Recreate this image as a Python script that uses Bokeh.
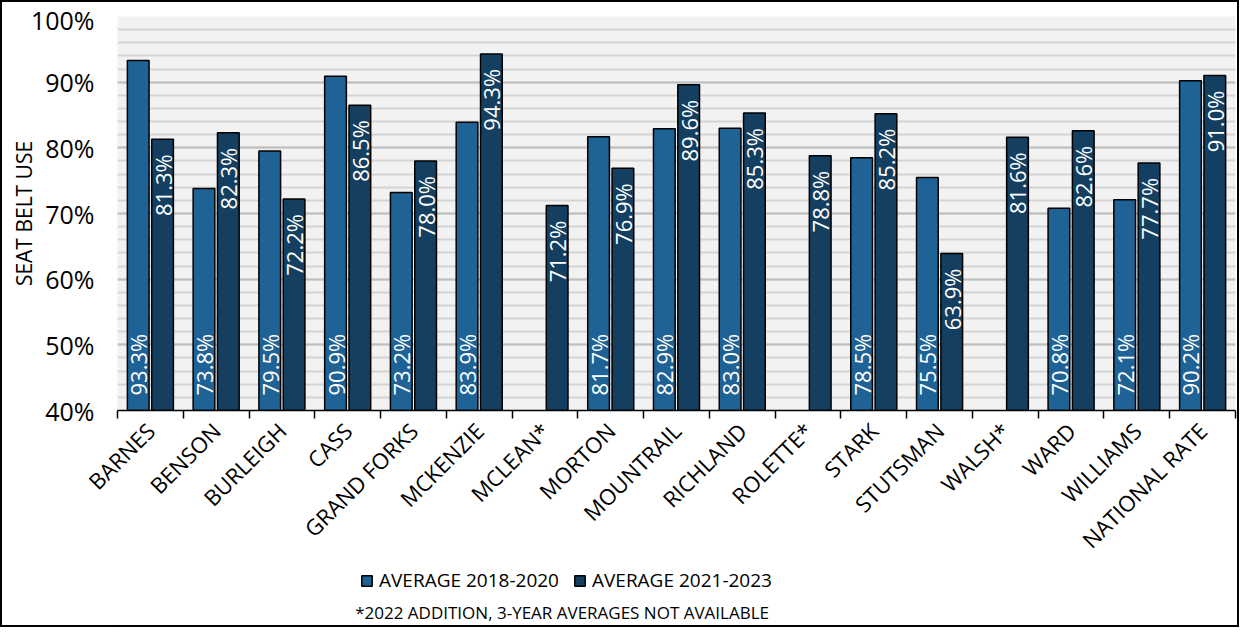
import math
from bokeh.plotting import figure
from bokeh.layouts import column
from bokeh.models import (ColumnDataSource, Range1d, FixedTicker, PrintfTickFormatter,
                          Legend, LegendItem, Label)
from bokeh.transform import dodge
from bokeh.core.properties import value
from bokeh.embed import file_html
from bokeh.resources import INLINE

counties = ["BARNES", "BENSON", "BURLEIGH", "CASS", "GRAND FORKS", "MCKENZIE", "MCLEAN*",
            "MORTON", "MOUNTRAIL", "RICHLAND", "ROLETTE*", "STARK", "STUTSMAN", "WALSH*",
            "WARD", "WILLIAMS", "NATIONAL RATE"]
avg_2018_2020 = [93.3, 73.8, 79.5, 90.9, 73.2, 83.9, None, 81.7, 82.9, 83.0, None, 78.5,
                 75.5, None, 70.8, 72.1, 90.2]
avg_2021_2023 = [81.3, 82.3, 72.2, 86.5, 78.0, 94.3, 71.2, 76.9, 89.6, 85.3, 78.8, 85.2,
                 63.9, 81.6, 82.6, 77.7, 91.0]
y_ticks = [40, 50, 60, 70, 80, 90, 100]
series_names = ["AVERAGE 2018-2020", "AVERAGE 2021-2023"]
footnote = "*2022 ADDITION, 3-YEAR AVERAGES NOT AVAILABLE"

FONT = "Open Sans"
C1 = "#1F6295"
C2 = "#153F60"
W = 1235
H1 = 565
H2 = 58

n = len(counties)
centers = [i + 0.5 for i in range(n)]
boundaries = list(range(n + 1))
nan = float("nan")
src = ColumnDataSource(dict(
    county=counties,
    pos=centers,
    a=[nan if v is None else v for v in avg_2018_2020],
    b=list(avg_2021_2023),
    a_lbl=["" if v is None else f"{v:.1f}%" for v in avg_2018_2020],
    b_lbl=[f"{v:.1f}%" for v in avg_2021_2023],
))

p = figure(x_range=Range1d(0, n), y_range=Range1d(y_ticks[0], y_ticks[-1]),
           width=W, height=H1, output_backend="svg", toolbar_location=None,
           min_border_left=115, min_border_right=2,
           min_border_top=14, min_border_bottom=156,
           background_fill_color="#F2F2F2", border_fill_color="white",
           outline_line_color=None)

off = 0.185
bw = 0.33
r1 = p.vbar(x=dodge("pos", -off), top="a", bottom=y_ticks[0], width=bw,
            source=src, fill_color=C1, line_color="black", line_width=1.5)
r2 = p.vbar(x=dodge("pos", off), top="b", bottom=y_ticks[0], width=bw,
            source=src, fill_color=C2, line_color="black", line_width=1.5)

p.text(x=dodge("pos", -off), y=y_ticks[0], text="a_lbl", angle=math.pi / 2,
       text_align="left", text_baseline="middle", y_offset=-15, text_color="white",
       text_font=value(FONT), text_font_size="22px", source=src)
p.text(x=dodge("pos", off), y="b", text="b_lbl", angle=math.pi / 2,
       text_align="right", text_baseline="middle", y_offset=15, text_color="white",
       text_font=value(FONT), text_font_size="22px", source=src)

# y axis
ya = p.yaxis[0]
ya.ticker = FixedTicker(ticks=y_ticks, minor_ticks=list(range(y_ticks[0], y_ticks[-1] + 1, 2)))
ya.formatter = PrintfTickFormatter(format="%d%%")
ya.axis_line_color = None
ya.major_tick_line_color = None
ya.minor_tick_line_color = None
ya.major_tick_out = 0
ya.minor_tick_out = 0
ya.major_label_text_font = FONT
ya.major_label_text_font_size = "25px"
ya.major_label_text_color = "black"
ya.major_label_standoff = 23
ya.axis_label = "SEAT BELT USE"
ya.axis_label_text_font = FONT
ya.axis_label_text_font_size = "21px"
ya.axis_label_text_font_style = "normal"
ya.axis_label_text_color = "black"
ya.axis_label_standoff = -10

p.xgrid.grid_line_color = None
p.ygrid.grid_line_color = "#BFBFBF"
p.ygrid.grid_line_width = 2
p.ygrid.minor_grid_line_color = "#D4D4D4"
p.ygrid.minor_grid_line_width = 2

# x axis: names at category centres, tick marks at category boundaries
xa = p.xaxis[0]
xa.ticker = FixedTicker(ticks=centers, minor_ticks=boundaries)
xa.major_label_overrides = {c: name for c, name in zip(centers, counties)}
xa.axis_line_color = "black"
xa.axis_line_width = 1.5
xa.major_tick_line_color = None
xa.major_tick_out = 0
xa.major_tick_in = 0
xa.minor_tick_line_color = "black"
xa.minor_tick_line_width = 1.5
xa.minor_tick_out = 8
xa.minor_tick_in = 0
xa.major_label_orientation = math.pi / 4
xa.major_label_text_font = FONT
xa.major_label_text_font_size = "22px"
xa.major_label_text_color = "black"
xa.major_label_standoff = 8

# legend + footnote strip (frame aligned with the chart above)
p2 = figure(x_range=p.x_range, y_range=Range1d(0, H2), width=W, height=H2,
            output_backend="svg", toolbar_location=None, min_border=0,
            outline_line_color=None, background_fill_color="white", border_fill_color="white")
p2.axis.visible = False
p2.grid.visible = False
# legend keys (placed outside the visible range, only their swatches are shown)
k1 = p2.vbar(x=[-5], top=[-10], bottom=[-11], width=0.3, fill_color=C1, line_color="black",
             line_width=1.5)
k2 = p2.vbar(x=[-5], top=[-10], bottom=[-11], width=0.3, fill_color=C2, line_color="black",
             line_width=1.5)
legend = Legend(items=[LegendItem(label=series_names[0], renderers=[k1]),
                       LegendItem(label=series_names[1], renderers=[k2])],
                orientation="horizontal", location=(243, 32),
                label_text_font=FONT, label_text_font_size="19px", label_text_color="black",
                glyph_width=13, glyph_height=13, label_standoff=6, spacing=14,
                padding=0, margin=0, border_line_color=None, background_fill_alpha=0)
p2.add_layout(legend)
p2.add_layout(Label(x=6.76, y=13, text=footnote, text_align="center", text_baseline="middle",
                    text_font=FONT, text_font_size="17px", text_color="black"))

layout = column(p, p2, spacing=0, styles={"border": "2px solid black"})
open("out.html", "w").write(file_html(layout, INLINE))
